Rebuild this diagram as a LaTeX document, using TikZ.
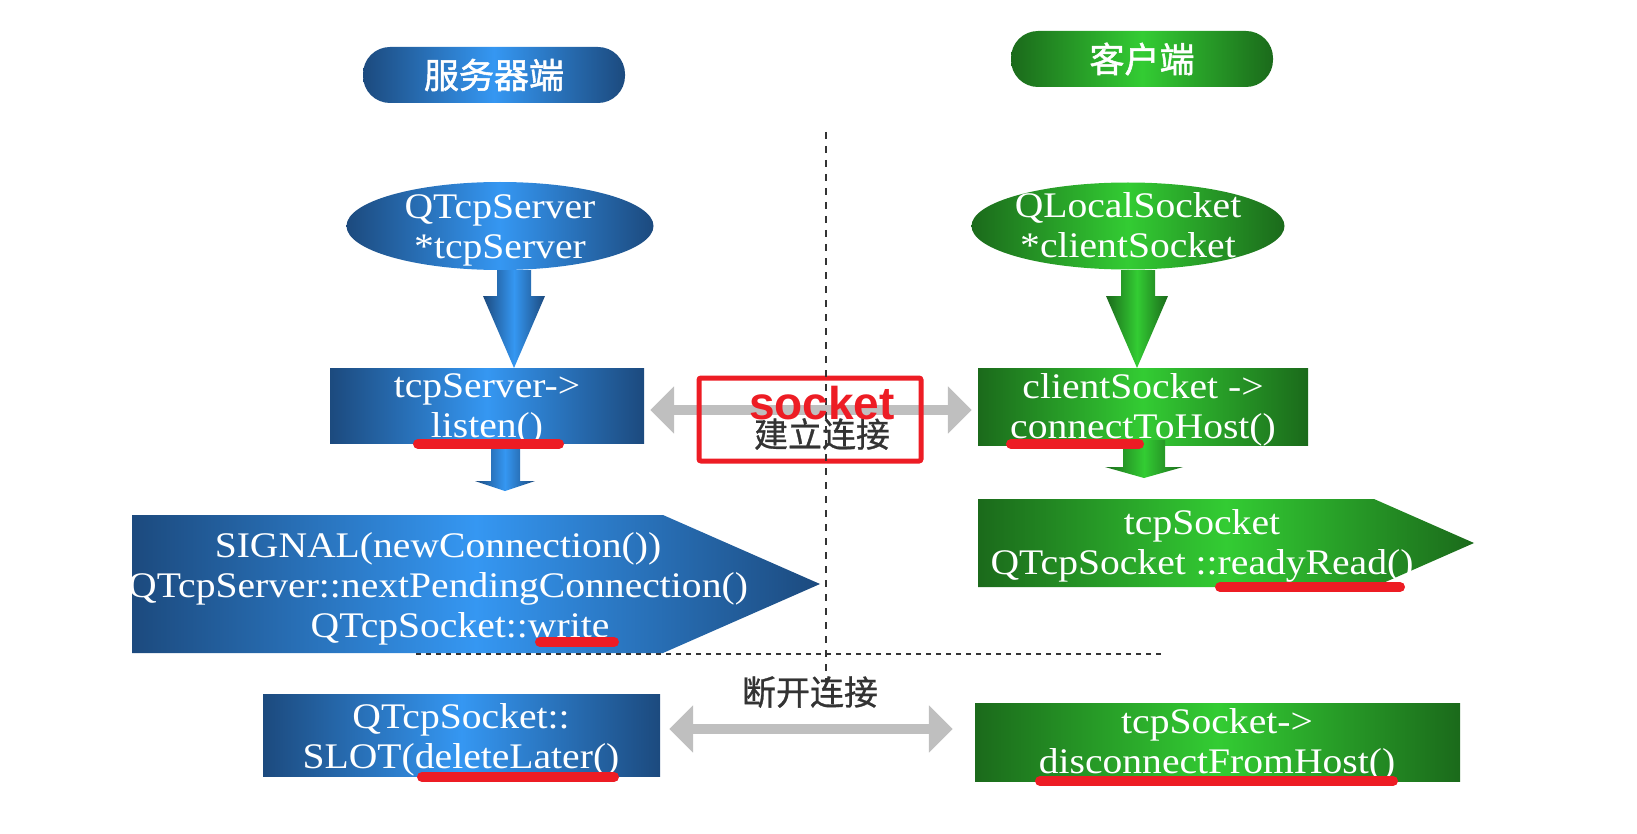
\documentclass[tikz,border=0pt]{standalone}
\usepackage{fontspec}
\setmainfont{Liberation Serif}[FakeStretch=1.1]
\newfontfamily\cjkb{Noto Sans CJK SC}[FakeBold=1.5]
\newfontfamily\cjkr{Noto Sans CJK SC}[FakeBold=0.8]
\newfontfamily\sockfont{Liberation Sans}
\usetikzlibrary{shapes.geometric,arrows.meta}
\definecolor{bdark}{HTML}{1C4A7E}
\definecolor{blight}{HTML}{3597F2}
\definecolor{gdark}{HTML}{1B6A1B}
\definecolor{glight}{HTML}{33CC33}
\definecolor{rmark}{HTML}{ED1C24}
\definecolor{garr}{HTML}{BFBFBF}
\definecolor{dline}{HTML}{333333}
\tikzset{
  bluefill/.style={left color=bdark,right color=bdark,middle color=blight},
  greenfill/.style={left color=gdark,right color=gdark,middle color=glight},
  box/.style={rectangle,inner sep=0pt},
  pill/.style={rectangle,rounded corners=27pt,minimum width=262pt,minimum height=56pt,inner sep=0pt},
  oval/.style={ellipse,inner sep=0pt},
  lbl/.style={text=white,font=\fontsize{36}{40}\selectfont,align=center,inner sep=0pt,yshift=-4pt},
  ttl/.style={text=white,font=\cjkb\fontsize{35}{40}\selectfont,inner sep=0pt},
  cnote/.style={text=dline,font=\cjkr\fontsize{34}{40}\selectfont,inner sep=0pt},
  redline/.style={draw=rmark,line width=10pt,line cap=round},
  garrow/.style={draw=garr,line width=10pt,{Triangle[length=24pt,width=46pt]}-{Triangle[length=24pt,width=46pt]}},
  vdash/.style={draw=dline,line width=2.3pt,dash pattern=on 7pt off 7pt},
  hdot/.style={draw=dline,line width=2pt,dash pattern=on 5pt off 5pt}
}
\begin{document}
\begin{tikzpicture}[x=1pt,y=-1pt]
\useasboundingbox (0,0) rectangle (1637,834);
% titles
\node[pill,bluefill] (stitle) at (494,75) {};
\node[ttl] (stitlet) at (494,75) {服务器端};
\node[pill,greenfill] (ctitle) at (1142,59) {};
\node[ttl] (ctitlet) at (1142,59) {客户端};
% server column
\node[oval,bluefill,minimum width=307pt,minimum height=88pt] (sell) at (500,226) {};
\node[lbl] (sellt) at (500,226) {QTcpServer\\*tcpServer};
\path[bluefill] (497,270) -- (531,270) -- (531,296) -- (545,296) -- (514,368) -- (483,296) -- (497,296) -- cycle;
\node[box,bluefill,minimum width=314pt,minimum height=75pt] (listen) at (487,405.5) {};
\node[lbl] (listent) at (487,405) {tcpServer->\\listen()};
\path[bluefill] (491,443) -- (520,443) -- (520,481) -- (535,481) -- (505,491) -- (475,481) -- (491,481) -- cycle;
\path[bluefill] (132,515) -- (663,515) -- (820,584) -- (663,653) -- (132,653) -- cycle;
\node[lbl] (sigt) at (438,585) {SIGNAL(newConnection())\\QTcpServer::nextPendingConnection()\\\hspace*{44pt}QTcpSocket::write};
\node[box,bluefill,minimum width=397pt,minimum height=82pt] (slot) at (461.5,735) {};
\node[lbl] (slott) at (461,736) {QTcpSocket::\\SLOT(deleteLater()};
% client column
\node[oval,greenfill,minimum width=313pt,minimum height=87pt] (cell) at (1128,226) {};
\node[lbl] (cellt) at (1128,221) {QLocalSocket\\*clientSocket};
\path[greenfill] (1121,270) -- (1155,270) -- (1155,296) -- (1168,296) -- (1137,368) -- (1106,296) -- (1121,296) -- cycle;
\node[box,greenfill,minimum width=330pt,minimum height=77pt] (client) at (1143,406.5) {};
\node[lbl] (clientt) at (1143,406) {clientSocket ->\\connectToHost()};
\path[greenfill] (1123,440) -- (1165,440) -- (1165,467) -- (1183,467) -- (1144,478) -- (1105,467) -- (1123,467) -- cycle;
\path[greenfill] (978,499) -- (1374,499) -- (1474,543) -- (1374,587) -- (978,587) -- cycle;
\node[lbl] (readt) at (1202,542) {tcpSocket\\QTcpSocket ::readyRead()};
\node[box,greenfill,minimum width=485pt,minimum height=78pt] (disc) at (1217.5,742) {};
\node[lbl] (disct) at (1217,741) {tcpSocket->\\disconnectFromHost()};
% red underlines
\draw[redline] (418,444) -- (559,444);
\draw[redline] (540,642) -- (614,642);
\draw[redline] (1011,444) -- (1139,444);
\draw[redline] (1220,587) -- (1400,587);
\draw[redline] (422,777) -- (614,777);
\draw[redline] (1040,781) -- (1393,781);
% connection arrows
\draw[garrow,shorten <=6pt,shorten >=6pt] ([yshift=-4.5pt]listen.east) -- ([yshift=-4.5pt]listen.east -| client.west);
\draw[garrow,shorten <=9pt,shorten >=22pt] ([yshift=6pt]slot.east) -- ([yshift=6pt]slot.east -| disc.west);
\node[draw=rmark,line width=5pt,rounded corners=2pt,minimum width=222pt,minimum height=83pt,inner sep=0pt] (sockbox) at (810,419.5) {};
\node[cnote] (build) at (822,434) {建立连接};
\node[cnote] (cut) at (810,692) {断开连接};
% divider lines
\coordinate (vtop) at (826,132);
\coordinate (vbot) at (826,682);
\coordinate (hl) at (416,654);
\coordinate (hr) at (1165,654);
\draw[vdash] (vtop) -- (vbot);
\draw[hdot] (hl) -- (hr);
\node[text=rmark,font=\sockfont\bfseries\fontsize{46}{50}\selectfont,anchor=base,inner sep=0pt] (sock) at (822,419) {socket};
\end{tikzpicture}
\end{document}
